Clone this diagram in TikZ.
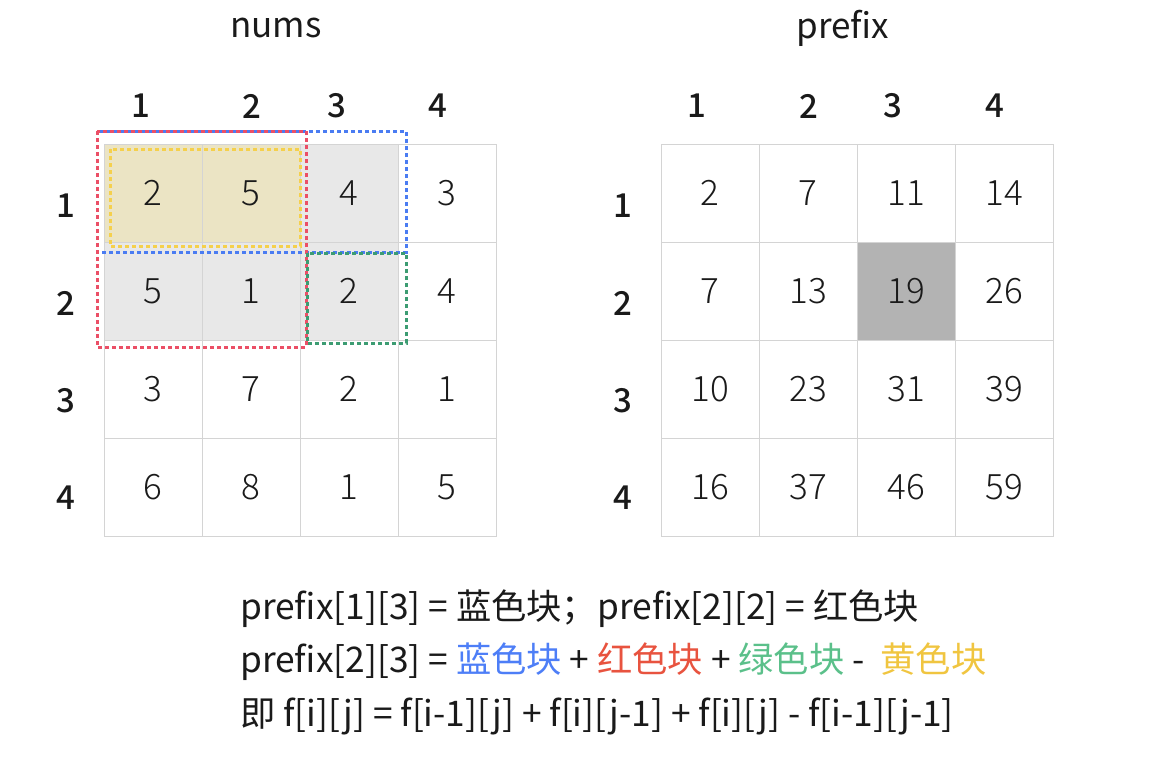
\documentclass[tikz,border=0pt]{standalone}
\usepackage{fontspec}
\setmainfont{Noto Sans CJK SC}
\newfontfamily\lightfont{Noto Sans CJK SC Light}
\newfontfamily\mediumfont{Noto Sans CJK SC Medium}
\definecolor{gridgray}{HTML}{D4D4D4}
\definecolor{lightfill}{HTML}{E8E8E8}
\definecolor{tanfill}{HTML}{EBE4C4}
\definecolor{darkfill}{HTML}{B3B3B3}
\definecolor{blueblk}{HTML}{4A7CF2}
\definecolor{redblk}{HTML}{EB4F66}
\definecolor{greenblk}{HTML}{3C9C72}
\definecolor{yellowblk}{HTML}{F5D04C}
\definecolor{bluetxt}{HTML}{4D7EF7}
\definecolor{redtxt}{HTML}{E8533F}
\definecolor{greentxt}{HTML}{5BC08A}
\definecolor{yellowtxt}{HTML}{F0C540}
\definecolor{ink}{HTML}{1A1A1A}
\tikzset{
  cell/.style={draw=gridgray, line width=0.8pt, minimum size=98pt, inner sep=0pt,
    text=ink, font=\lightfont\fontsize{35}{40}\selectfont},
  index/.style={text=ink, font=\mediumfont\fontsize{33}{36}\selectfont},
  title/.style={text=ink, font=\fontsize{35}{40}\selectfont},
  blockline/.style={dash pattern=on 4pt off 3pt, line width=3pt},
  formula/.style={anchor=west, inner sep=0pt, text=ink, font=\fontsize{35.3}{40}\selectfont}
}
\begin{document}
\begin{tikzpicture}[x=1pt,y=-1pt]
\useasboundingbox (0,0) rectangle (1152,784);

% titles
\node[title] (numsT) at (276,28) {nums};
\node[title] (prefT) at (843,28) {prefix};

% fills
\fill[lightfill] (104,144) rectangle (398,340);
\fill[tanfill] (104,144) rectangle (300,242);
\fill[darkfill] (857,242) rectangle (955,340);

% nums grid
\foreach \r/\row in {1/{2,5,4,3},2/{5,1,2,4},3/{3,7,2,1},4/{6,8,1,5}}
  \foreach \v [count=\c] in \row
    \node[cell] (n\r\c) at ({104+98*(\c-0.5)},{144+98*(\r-0.5)}) {\v};

% prefix grid
\foreach \r/\row in {1/{2,7,11,14},2/{7,13,19,26},3/{10,23,31,39},4/{16,37,46,59}}
  \foreach \v [count=\c] in \row
    \node[cell] (p\r\c) at ({661+98*(\c-0.5)},{144+98*(\r-0.5)}) {\v};

% indices
\foreach \i/\xa/\xb in {1/141/697,2/252/809,3/337/893,4/438/995} {
  \node[index] (nc\i) at (\xa,106) {\i};
  \node[index] (pc\i) at (\xb,106) {\i};
}
\foreach \i/\y in {1/206,2/303,3/401,4/498} {
  \node[index] (nr\i) at (66,\y) {\i};
  \node[index] (pr\i) at (623,\y) {\i};
}

% blocks
\draw[blockline, blueblk] (97,131) rectangle (406,252);
\draw[blockline, redblk] (97,131) rectangle (306,347);
\draw[blockline, greenblk] (307,253) rectangle (406,343);
\draw[blockline, yellowblk] (110,149) rectangle (300,246);

% formulas
\node[formula] (f1) at (240,609) {prefix[1][3] = 蓝色块；prefix[2][2] = 红色块};
\node[formula] (f2) at (240,662) {prefix[2][3] = \textcolor{bluetxt}{蓝色块} + \textcolor{redtxt}{红色块} + \textcolor{greentxt}{绿色块} -\ \ \textcolor{yellowtxt}{黄色块}};
\node[formula] (f3) at (240,716) {即 f[i][j] = f[i-1][j] + f[i][j-1] + f[i][j] - f[i-1][j-1]};
\end{tikzpicture}
\end{document}
